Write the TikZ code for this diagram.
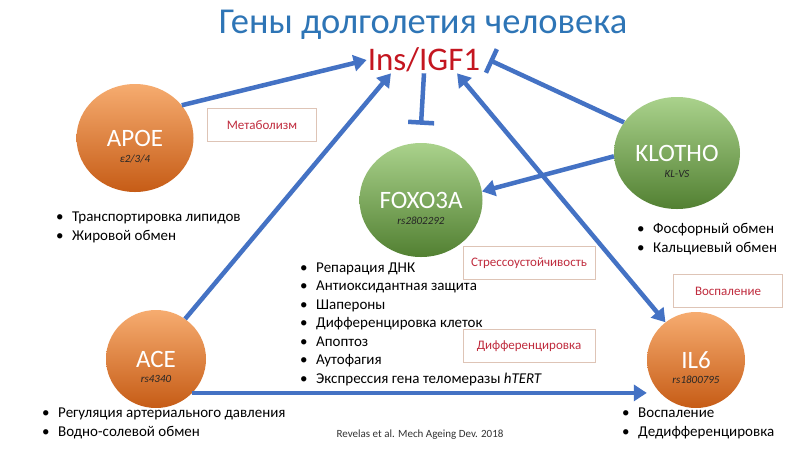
\documentclass[tikz,border=0pt]{standalone}
\usepackage{fontspec}
\setmainfont{Carlito}
\usetikzlibrary{arrows.meta,shapes.geometric}
\definecolor{arrblue}{RGB}{68,114,196}
\definecolor{ttlblue}{RGB}{46,117,182}
\definecolor{igfred}{RGB}{196,22,32}
\definecolor{tagred}{RGB}{192,44,62}
\definecolor{tagline}{RGB}{222,196,182}
\definecolor{orngtop}{RGB}{246,172,112}
\definecolor{orngbot}{RGB}{198,92,22}
\definecolor{grntop}{RGB}{170,210,140}
\definecolor{grnbot}{RGB}{82,128,50}
\newcommand{\bul}{\makebox[16pt][l]{•}}

\begin{document}
\begin{tikzpicture}[x=1pt, y=-1pt,
    gene/.style={ellipse, inner sep=0pt, text=white, font=\fontsize{25}{25}\selectfont},
    orng/.style={gene, top color=orngtop, bottom color=orngbot},
    grn/.style={gene, top color=grntop, bottom color=grnbot},
    sub/.style={font=\fontsize{11}{11}\selectfont\itshape, text=black!85},
    tag/.style={draw=tagline, line width=1pt, text=tagred, font=\fontsize{13}{13}\selectfont, minimum height=33pt},
    lst/.style={anchor=base west, align=left, inner sep=0pt, font=\fontsize{15}{18.5}\selectfont},
    arr/.style={draw=arrblue, line width=4.5pt, -{Triangle[length=13pt,width=16pt]}},
    dbl/.style={arr, {Triangle[length=13pt,width=16pt]}-{Triangle[length=13pt,width=16pt]}},
    inh/.style={draw=arrblue, line width=4.5pt, -{Bar[width=26pt]}}]
  \path[fill=white, use as bounding box] (0,0) rectangle (800,448);

  \node[text=ttlblue, font=\fontsize{36.5}{36.5}\selectfont] (ttl) at (423,25) {Гены долголетия человека};
  \node[text=igfred, inner sep=1pt, font=\fontsize{33}{33}\selectfont] (igf) at (424,60) {Ins/IGF1};

  \node[orng, minimum width=117pt, minimum height=108pt] (apoe) at (135,138) {APOE};
  \node[grn, minimum width=123pt, minimum height=114pt] (foxo) at (421,200) {FOXO3A};
  \node[grn, minimum width=126pt, minimum height=112pt] (klotho) at (677,153) {KLOTHO};
  \node[orng, minimum width=100pt, minimum height=98pt] (ace) at (156,359) {ACE};
  \node[orng, minimum width=98pt, minimum height=96pt] (il6) at (696,360) {IL6};

  \node[sub] (apoesub) at ([yshift=-21pt]apoe.center) {ε2/3/4};
  \node[sub] (foxosub) at ([yshift=-21pt]foxo.center) {rs2802292};
  \node[sub] (klothosub) at ([yshift=-21pt]klotho.center) {KL-VS};
  \node[sub] (acesub) at ([yshift=-20pt]ace.center) {rs4340};
  \node[sub] (il6sub) at ([yshift=-20pt]il6.center) {rs1800795};

  \node[tag, minimum width=109pt] (met) at (262,125) {Метаболизм};
  \node[tag, minimum width=132pt] (stress) at (529,263) {Стрессоустойчивость};
  \node[tag, minimum width=132pt] (diff) at (529,346) {Дифференцировка};
  \node[tag, minimum width=109pt] (infl) at (728,291) {Воспаление};

  \node[lst] (apoelst) at (56,240) {\bul Транспортировка липидов\\ \bul Жировой обмен};
  \node[lst] (klotholst) at (637,252) {\bul Фосфорный обмен\\ \bul Кальциевый обмен};
  \node[lst] (foxolst) at (300,383) {\bul Репарация ДНК\\ \bul Антиоксидантная защита\\ \bul Шапероны\\
    \bul Дифференцировка клеток\\ \bul Апоптоз\\ \bul Аутофагия\\ \bul Экспрессия гена теломеразы \textit{hTERT}};
  \node[lst] (acelst) at (42,436) {\bul Регуляция артериального давления\\ \bul Водно-солевой обмен};
  \node[lst] (il6lst) at (622,436) {\bul Воспаление\\ \bul Дедифференцировка};

  \node[text=black!80, font=\fontsize{11}{11}\selectfont] (src) at (420,435) {Revelas et al. Mech Ageing Dev. 2018};

  \draw[arr] (apoe.35) -- (igf.west);
  \draw[arr] (ace.54) -- (igf.202);
  \draw[dbl] (il6.129) -- (igf.338);
  \draw[inh] (klotho.150) -- ([xshift=8pt]igf.east);
  \draw[arr] (klotho.183) -- (foxo.8);
  \draw[inh] (igf.south) -- ([yshift=18pt]foxo.north);
  \draw[arr] (ace.-43) -- (ace.-43 -| il6.west);
\end{tikzpicture}
\end{document}
